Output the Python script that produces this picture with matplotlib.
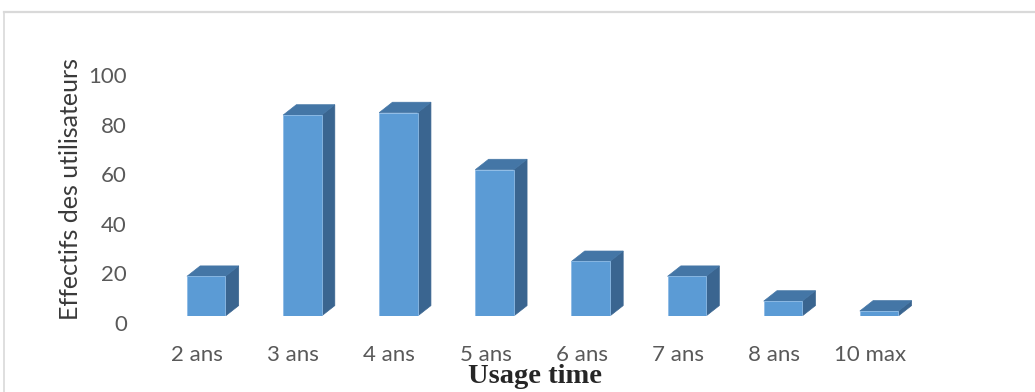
import matplotlib
matplotlib.use("Agg")
import matplotlib.pyplot as plt
import matplotlib.transforms as mtransforms
from matplotlib.patches import Polygon
from matplotlib.lines import Line2D

# usage duration categories and number of users
categories = ["2 ans", "3 ans", "4 ans", "5 ans", "6 ans", "7 ans", "8 ans", "10 max"]
users = [16, 81, 82, 59, 22, 16, 6, 2]
yticks = [0, 20, 40, 60, 80, 100]

FRONT = "#5B9BD5"
TOP = "#4476A6"
SIDE = "#3A6590"
TICK_GRAY = "#595959"

W, H, DPI = 1035, 392, 100
fig = plt.figure(figsize=(W / DPI, H / DPI), dpi=DPI)

# plot area placed in pixel terms
left_px, right_px = 149, 918
base_px, px_per_unit = 316, 2.48
ymax = 110
ax = fig.add_axes([left_px / W, (H - base_px) / H,
                   (right_px - left_px) / W, px_per_unit * ymax / H])
ax.set_xlim(-0.5, len(categories) - 0.5)
ax.set_ylim(0, ymax)

# fake 3d columns: front face + top + right side
width = 0.40
shift = 0.095
dx = 0.138
dy = 4.2
for i, h in enumerate(users):
    x0 = i + shift - width / 2
    x1 = x0 + width
    side = Polygon([(x1, 0), (x1 + dx, dy), (x1 + dx, h + dy), (x1, h)],
                   closed=True, facecolor=SIDE, edgecolor=SIDE, lw=0.5, zorder=2)
    top = Polygon([(x0, h), (x1, h), (x1 + dx, h + dy), (x0 + dx, h + dy)],
                  closed=True, facecolor=TOP, edgecolor=TOP, lw=0.5, zorder=2)
    ax.add_patch(side)
    ax.add_patch(top)
ax.bar([i + shift for i in range(len(users))], users, width=width,
       color=FRONT, edgecolor="#8DBBE6", linewidth=0.6, zorder=3)

for s in ax.spines.values():
    s.set_visible(False)

ax.set_xticks(range(len(categories)))
ax.set_xticklabels(categories)
ax.set_yticks(yticks)
ax.tick_params(axis="both", length=0, colors=TICK_GRAY, labelsize=16)
ax.tick_params(axis="x", pad=21)
ax.tick_params(axis="y", pad=16)
for lab in ax.get_xticklabels() + ax.get_yticklabels():
    lab.set_fontfamily("Lato")

# value labels sit a bit lower than the front faces
down = mtransforms.ScaledTranslation(0, -7 / DPI, fig.dpi_scale_trans)
for lab in ax.get_yticklabels():
    lab.set_transform(lab.get_transform() + down)

fig.text(71 / W, (H - 189) / H, "Effectifs des utilisateurs", rotation=90,
         ha="center", va="center", fontsize=18, family="Lato", color="#3A3A3A")
fig.text(535 / W, (H - 383) / H, "Usage time", ha="center", va="baseline",
         fontsize=20.5, fontweight="bold", family="Liberation Serif", color="#262626")

# chart frame (top and left edges visible)
fig.add_artist(Line2D([4 / W, 1.0], [1 - 12 / H, 1 - 12 / H],
                      transform=fig.transFigure, color="#D9D9D9", lw=1.6))
fig.add_artist(Line2D([4 / W, 4 / W], [0.0, 1 - 12 / H],
                      transform=fig.transFigure, color="#D9D9D9", lw=1.2))

fig.savefig("out.png", dpi=DPI)
